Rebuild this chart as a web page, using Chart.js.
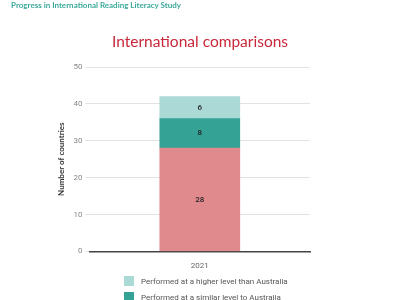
<!DOCTYPE html>
<html>
<head>
<meta charset="utf-8">
<script src="https://cdn.jsdelivr.net/npm/chart.js@4/dist/chart.umd.min.js"></script>
<style>
  html, body { margin: 0; padding: 0; background: #fff; overflow: hidden; }
  #wrap { position: relative; width: 400px; height: 300px; }
  #header { position: absolute; left: 11px; top: 0px; font-family: Lato, sans-serif; font-size: 8px; font-weight: bold; color: #3aa89a; }
  #title { position: absolute; left: 0; width: 400px; top: 32px; text-align: center; font-family: Lato, sans-serif; font-size: 15.5px; color: #c8283a; line-height: 19px; }
  #legend { position: absolute; left: 124px; top: 273px; font-family: Roboto, sans-serif; font-size: 8px; color: #555; }
  #legend div { display: flex; align-items: center; height: 16px; }
  #legend span.box { display: inline-block; width: 10px; height: 10px; margin-right: 7px; }
</style>
</head>
<body>
<div id="wrap">
  <canvas id="chart" width="400" height="300"></canvas>
  <div id="header">Progress in International Reading Literacy Study</div>
  <div id="title">International comparisons</div>
  <div id="legend"></div>
</div>
<script>
// данные
const categories = ['2021'];
const higherValues = [6];
const similarValues = [8];
const lowerValues = [28];
const yTicks = [0, 10, 20, 30, 40, 50];

const seriesNames = [
  'Performed at a higher level than Australia',
  'Performed at a similar level to Australia',
  'Performed at a lower level than Australia'
];
const seriesColors = ['#abd9d6', '#34a396', '#e08a8e'];

// подписи внутри сегментов
const segmentLabels = {
  id: 'segmentLabels',
  afterDatasetsDraw(chart) {
    const ctx = chart.ctx;
    ctx.save();
    ctx.font = '500 8px Roboto, sans-serif';
    ctx.fillStyle = '#222';
    ctx.textAlign = 'center';
    ctx.textBaseline = 'middle';
    chart.data.datasets.forEach((ds, i) => {
      chart.getDatasetMeta(i).data.forEach((bar, j) => {
        const p = bar.getProps(['x', 'y', 'base'], true);
        ctx.fillText(ds.data[j], p.x, (p.y + p.base) / 2);
      });
    });
    ctx.restore();
  }
};

const chart = new Chart(document.getElementById('chart'), {
  type: 'bar',
  data: {
    labels: categories,
    datasets: [
      { label: seriesNames[2], data: lowerValues, backgroundColor: seriesColors[2] },
      { label: seriesNames[1], data: similarValues, backgroundColor: seriesColors[1] },
      { label: seriesNames[0], data: higherValues, backgroundColor: seriesColors[0] }
    ]
  },
  options: {
    responsive: false,
    animation: false,
    layout: { padding: { left: 57, right: 90, top: 67, bottom: 27 } },
    datasets: { bar: { barThickness: 80 } },
    plugins: {
      legend: { display: false },
      tooltip: { enabled: false }
    },
    scales: {
      x: {
        stacked: true,
        grid: { display: false },
        border: { color: '#444', width: 1.5 },
        ticks: { color: '#666', font: { family: 'Roboto, sans-serif', size: 8 }, padding: 2 }
      },
      y: {
        stacked: true,
        min: 0,
        max: 50,
        afterBuildTicks(axis) { axis.ticks = yTicks.map(v => ({ value: v })); },
        grid: { color: '#e2e2e2', lineWidth: 1, tickLength: 4 },
        border: { display: false },
        ticks: { color: '#888', font: { family: 'Roboto, sans-serif', size: 8 }, padding: 3 },
        title: {
          display: true,
          text: 'Number of countries',
          color: '#333',
          font: { family: 'Lato, sans-serif', size: 8, weight: 'bold' },
          padding: { top: 0, bottom: 4 }
        }
      }
    }
  },
  plugins: [segmentLabels]
});

// легенда
const legend = document.getElementById('legend');
seriesNames.forEach((name, i) => {
  const row = document.createElement('div');
  row.innerHTML = '<span class="box" style="background:' + seriesColors[i] + '"></span>' + name;
  legend.appendChild(row);
});
</script>
</body>
</html>
